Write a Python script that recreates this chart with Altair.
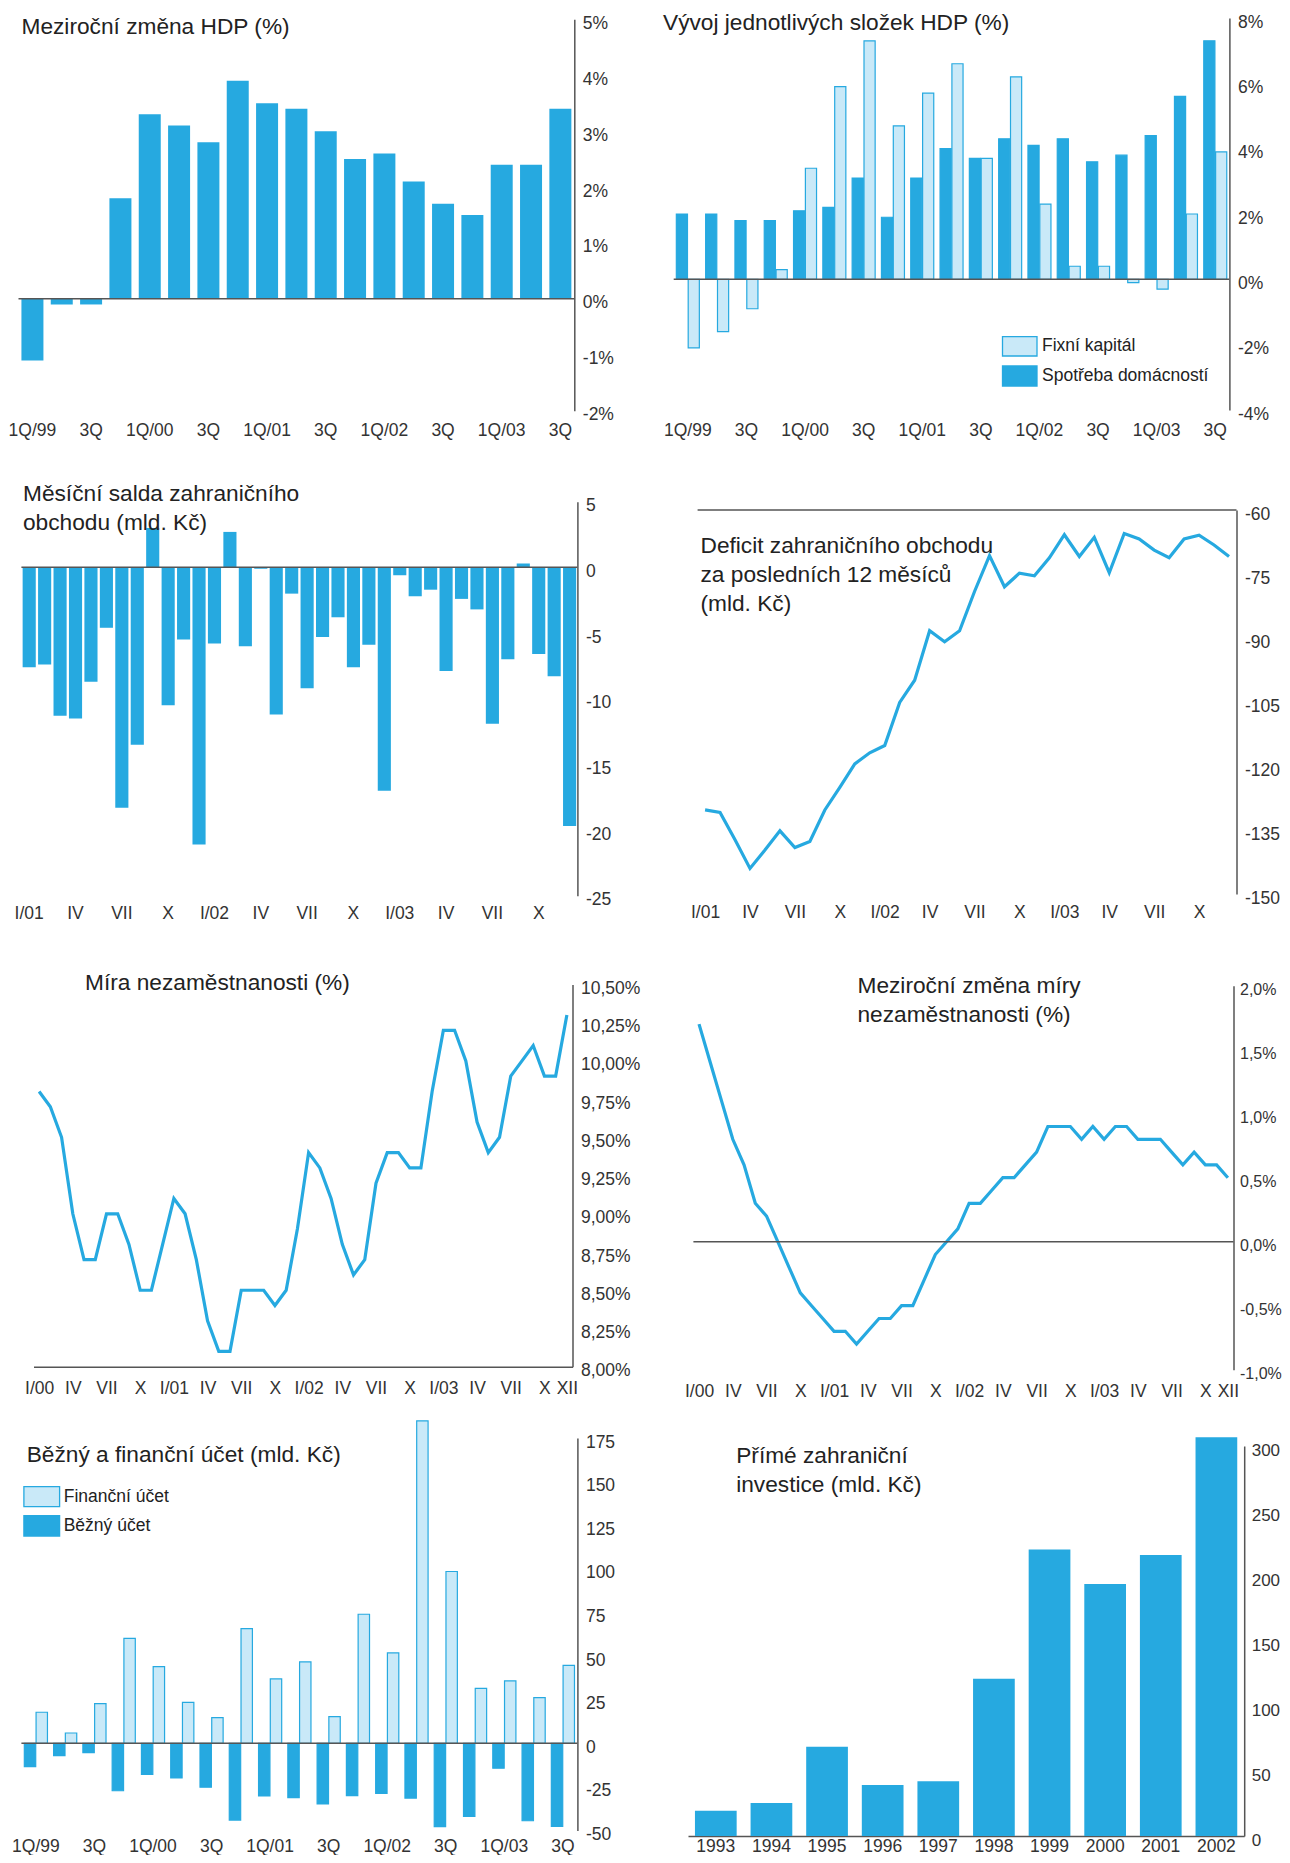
import altair as alt
import pandas as pd

FONT = "Liberation Sans"
BLUE = "#26a9e0"
LIGHT = "#c9e9f8"
AXIS = "#555555"
TXT = "#222222"
LBL = "#333333"
W, H = 1274, 1847

# ---------------- data ----------------
quarters = ["1Q/99", "2Q/99", "3Q/99", "4Q/99", "1Q/00", "2Q/00", "3Q/00", "4Q/00",
            "1Q/01", "2Q/01", "3Q/01", "4Q/01", "1Q/02", "2Q/02", "3Q/02", "4Q/02",
            "1Q/03", "2Q/03", "3Q/03"]
gdp_yoy = [-1.1, -0.1, -0.1, 1.8, 3.3, 3.1, 2.8, 3.9, 3.5, 3.4, 3.0, 2.5, 2.6, 2.1,
           1.7, 1.5, 2.4, 2.4, 3.4]
consumption = [2.0, 2.0, 1.8, 1.8, 2.1, 2.2, 3.1, 1.9, 3.1, 4.0, 3.7, 4.3, 4.1, 4.3,
               3.6, 3.8, 4.4, 5.6, 7.3]
fixed_capital = [-2.1, -1.6, -0.9, 0.3, 3.4, 5.9, 7.3, 4.7, 5.7, 6.6, 3.7, 6.2, 2.3,
                 0.4, 0.4, -0.1, -0.3, 2.0, 3.9]

roman = ["I", "II", "III", "IV", "V", "VI", "VII", "VIII", "IX", "X", "XI", "XII"]
months_01_03 = [f"{m}/{y}" for y in ["01", "02", "03"] for m in roman]
months_00_03 = [f"{m}/{y}" for y in ["00", "01", "02", "03"] for m in roman]

trade_balance = [-7.6, -7.4, -11.3, -11.5, -8.7, -4.6, -18.3, -13.5, 3.0, -10.5, -5.5, -21.1,
                 -5.8, 2.7, -6.0, -0.1, -11.2, -2.0, -9.2, -5.3, -3.8, -7.6, -5.9, -17.0,
                 -0.6, -2.2, -1.7, -7.9, -2.4, -3.2, -11.9, -7.0, 0.3, -6.6, -8.3, -19.7]
trade_12m = [-130.3, -130.9, -137.3, -144.0, -139.7, -135.2, -139.1, -137.7, -130.3, -125.0,
             -119.5, -116.9, -115.2, -105.1, -99.9, -88.3, -90.9, -88.3, -79.1, -70.7,
             -78.0, -74.8, -75.4, -71.2, -65.8, -70.9, -66.4, -74.7, -65.5, -66.8,
             -69.4, -71.2, -66.8, -65.9, -68.2, -70.9]

unemployment = [9.8, 9.7, 9.5, 9.0, 8.7, 8.7, 9.0, 9.0, 8.8, 8.5, 8.5, 8.8,
                9.1, 9.0, 8.7, 8.3, 8.1, 8.1, 8.5, 8.5, 8.5, 8.4, 8.5, 8.9,
                9.4, 9.3, 9.1, 8.8, 8.6, 8.7, 9.2, 9.4, 9.4, 9.3, 9.3, 9.8,
                10.2, 10.2, 10.0, 9.6, 9.4, 9.5, 9.9, 10.0, 10.1, 9.9, 9.9, 10.3]
unemployment_yoy = [1.7, 1.4, 1.1, 0.8, 0.6, 0.3, 0.2, 0.0, -0.2, -0.4, -0.5, -0.6,
                    -0.7, -0.7, -0.8, -0.7, -0.6, -0.6, -0.5, -0.5, -0.3, -0.1, 0.0, 0.1,
                    0.3, 0.3, 0.4, 0.5, 0.5, 0.6, 0.7, 0.9, 0.9, 0.9, 0.8, 0.9,
                    0.8, 0.9, 0.9, 0.8, 0.8, 0.8, 0.7, 0.6, 0.7, 0.6, 0.6, 0.5]

current_account = [-13.4, -7.1, -5.4, -27.2, -17.8, -19.9, -25.2, -44.0, -30.2, -31.2,
                   -34.8, -30.0, -28.7, -31.4, -47.8, -41.9, -14.3, -44.4, -47.6]
financial_account = [17.8, 5.9, 22.8, 60.2, 44.0, 23.5, 14.7, 65.8, 36.9, 46.7,
                     15.3, 74.0, 51.8, 184.9, 98.5, 31.5, 35.8, 26.2, 44.7]

years = [str(y) for y in range(1993, 2003)]
fdi = [19.5, 25.4, 68.7, 39.2, 42.1, 121.0, 220.3, 193.8, 216.2, 306.7]

S_CONS, S_FIX = "Spotřeba domácností", "Fixní kapitál"
S_CUR, S_FIN = "Běžný účet", "Finanční účet"

QEXPR = ("substring(datum.value,0,2)=='1Q' ? datum.value : "
         "(substring(datum.value,0,2)=='3Q' ? '3Q' : '')")
MEXPR = ("split(datum.value,'/')[0]=='I' ? datum.value : "
         "(indexof(['IV','VII','X'], split(datum.value,'/')[0]) >= 0 ? split(datum.value,'/')[0] : '')")
MEXPR2 = ("split(datum.value,'/')[0]=='I' ? datum.value : "
          "((indexof(['IV','VII','X'], split(datum.value,'/')[0]) >= 0 || datum.value=='XII/03') "
          "? split(datum.value,'/')[0] : '')")


# ---------------- helpers ----------------
def yaxis(x_right, values, expr, size=17.5, pad=8):
    return alt.Axis(orient="right", offset=x_right - W, values=values, labelExpr=expr,
                    ticks=False, tickSize=0, grid=False, domain=True, domainColor=AXIS,
                    domainWidth=1.5, labelPadding=pad, labelOffset=4, labelBaseline="middle",
                    labelAlign="left", labelFontSize=size, labelColor=LBL, labelFont=FONT,
                    title=None, labelOverlap=False, labelFlush=False)


def xaxis(y_bottom, pad, expr, domain=False):
    return alt.Axis(orient="bottom", offset=y_bottom - H, labelExpr=expr, ticks=False,
                    tickSize=0, grid=False, domain=domain, domainColor=AXIS, domainWidth=1.5,
                    labelPadding=pad, labelBaseline="middle", labelAngle=0, labelFontSize=17.5,
                    labelColor=LBL, labelFont=FONT, title=None, labelOverlap=False)


def yscale(domain, yb, yt):
    return alt.Scale(domain=domain, range=[yb, yt], nice=False, zero=False)


def title_layer(lines, x, y):
    return alt.Chart(pd.DataFrame({"k": [0]})).mark_text(
        text=lines, align="left", baseline="alphabetic", font=FONT, fontSize=22.7,
        color=TXT, lineHeight=29).encode(x=alt.value(x), y=alt.value(y))


def hrule(val, x0, x1, sc, ax):
    return alt.Chart(pd.DataFrame({"v": [val]})).mark_rule(color=AXIS, strokeWidth=1.5).encode(
        y=alt.Y("v:Q", scale=sc, axis=ax), x=alt.value(x0), x2=alt.value(x1))


def legend_item(label, fill, x0, y0, x1, y1, tx):
    sw = alt.Chart(pd.DataFrame({"k": [0]})).mark_rect(fill=fill, stroke=BLUE, strokeWidth=1.3).encode(
        x=alt.value(x0), x2=alt.value(x1), y=alt.value(y0), y2=alt.value(y1))
    tt = alt.Chart(pd.DataFrame({"k": [0]})).mark_text(
        text=label, align="left", baseline="middle", font=FONT, fontSize=17.5, color=TXT).encode(
        x=alt.value(tx), y=alt.value((y0 + y1) / 2))
    return [sw, tt]


# ---------------- panel 1 ----------------
X0, X1, YB, YT = 10.5, 566.3, 402.7, 11.3
sc = yscale([-2, 5], YB, YT)
ax = yaxis(X1, list(range(-2, 6)), "datum.value + '%'")
p1 = alt.layer(
    alt.Chart(pd.DataFrame({"q": quarters, "v": gdp_yoy})).mark_bar(color=BLUE).encode(
        x=alt.X("q:N", sort=None, scale=alt.Scale(range=[X0, X1], paddingInner=0.25, paddingOuter=0.1),
                axis=xaxis(YB, 19.3, QEXPR)),
        y=alt.Y("v:Q", scale=sc, axis=ax)),
    hrule(0, X0, X1, sc, ax),
    title_layer(["Meziroční změna HDP (%)"], 13.5, 26.3),
)

# ---------------- panel 2 ----------------
X0, X1, YB, YT = 665.7, 1221.4, 402.0, 10.0
sc = yscale([-4, 8], YB, YT)
ax = yaxis(X1, list(range(-4, 9, 2)), "datum.value + '%'")
df2 = pd.DataFrame({"q": quarters * 2, "s": [S_CONS] * len(quarters) + [S_FIX] * len(quarters),
                    "v": consumption + fixed_capital})
p2 = alt.layer(
    alt.Chart(df2).mark_bar(stroke=BLUE, strokeWidth=1.2).encode(
        x=alt.X("q:N", sort=None, scale=alt.Scale(range=[X0, X1], paddingInner=0.215, paddingOuter=0.09),
                axis=xaxis(YB, 20, QEXPR)),
        xOffset=alt.XOffset("s:N", scale=alt.Scale(domain=[S_CONS, S_FIX], paddingInner=0.06)),
        y=alt.Y("v:Q", stack=None, scale=sc, axis=ax),
        color=alt.Color("s:N", scale=alt.Scale(domain=[S_CONS, S_FIX], range=[BLUE, LIGHT]), legend=None)),
    hrule(0, X0, X1, sc, ax),
    title_layer(["Vývoj jednotlivých složek HDP (%)"], 655, 21.5),
    *legend_item(S_FIX, LIGHT, 994.5, 328.7, 1029, 348, 1034),
    *legend_item(S_CONS, BLUE, 994.5, 358, 1029, 378, 1034),
)

# ---------------- panel 3 ----------------
X0, X1, YB, YT = 13.4, 569.4, 887.7, 493.7
sc = yscale([-25, 5], YB, YT)
ax = yaxis(X1, list(range(-25, 6, 5)), "'' + datum.value")
p3 = alt.layer(
    alt.Chart(pd.DataFrame({"m": months_01_03, "v": trade_balance})).mark_bar(color=BLUE).encode(
        x=alt.X("m:N", sort=None, scale=alt.Scale(range=[X0, X1], paddingInner=0.15, paddingOuter=0.08),
                axis=xaxis(YB, 17.5, MEXPR)),
        y=alt.Y("v:Q", scale=sc, axis=ax)),
    hrule(0, X0, X1, sc, ax),
    title_layer(["Měsíční salda zahraničního", "obchodu (mld. Kč)"], 15, 492.7),
)

# ---------------- panel 4 ----------------
X0, X1, YB, YT = 689.6, 1228.5, 886.0, 502.0
sc = yscale([-150, -60], YB, YT)
ax = yaxis(X1, list(range(-150, -59, 15)), "'' + datum.value")
p4 = alt.layer(
    alt.Chart(pd.DataFrame({"m": months_01_03, "v": trade_12m})).mark_line(color=BLUE, strokeWidth=3.2).encode(
        x=alt.X("m:N", sort=None, scale=alt.Scale(type="point", range=[X0, X1], padding=0.5),
                axis=xaxis(YB, 18.7, MEXPR)),
        y=alt.Y("v:Q", scale=sc, axis=ax)),
    hrule(-60, X0, X1, sc, ax),
    title_layer(["Deficit zahraničního obchodu", "za posledních 12 měsíců", "(mld. Kč)"], 692.5, 544.7),
)

# ---------------- panel 5 ----------------
X0, X1, YB, YT = 25.5, 564.5, 1358.7, 976.4
sc = yscale([8.0, 10.5], YB, YT)
p5 = alt.layer(
    alt.Chart(pd.DataFrame({"m": months_00_03, "v": unemployment})).mark_line(color=BLUE, strokeWidth=3.2).encode(
        x=alt.X("m:N", sort=None, scale=alt.Scale(type="point", range=[X0, X1], padding=0.5),
                axis=xaxis(YB, 21.3, MEXPR2, domain=True)),
        y=alt.Y("v:Q", scale=sc, axis=yaxis(X1, [8 + 0.25 * i for i in range(11)],
                                            "replace(format(datum.value, '.2f'), '.', ',') + '%'"))),
    title_layer(["Míra nezaměstnanosti (%)"], 77, 982),
)

# ---------------- panel 6 ----------------
X0, X1, YB, YT = 685.4, 1225.5, 1361.7, 977.7
sc = yscale([-1.0, 2.0], YB, YT)
ax = yaxis(X1, [-1.0, -0.5, 0.0, 0.5, 1.0, 1.5, 2.0],
           "replace(replace(format(datum.value, '.1f'), '.', ','), '\u2212', '-') + '%'",
           size=16, pad=6)
p6 = alt.layer(
    alt.Chart(pd.DataFrame({"m": months_00_03, "v": unemployment_yoy})).mark_line(color=BLUE, strokeWidth=3.2).encode(
        x=alt.X("m:N", sort=None, scale=alt.Scale(type="point", range=[X0, X1], padding=0.5),
                axis=xaxis(YB, 22, MEXPR2)),
        y=alt.Y("v:Q", scale=sc, axis=ax)),
    hrule(0, X0, X1, sc, ax),
    title_layer(["Meziroční změna míry", "nezaměstnanosti (%)"], 849.5, 984.7),
)

# ---------------- panel 7 ----------------
X0, X1, YB, YT = 13.4, 569.4, 1822.5, 1430.1
sc = yscale([-50, 175], YB, YT)
ax = yaxis(X1, list(range(-50, 176, 25)), "'' + datum.value")
df7 = pd.DataFrame({"q": quarters * 2, "s": [S_CUR] * len(quarters) + [S_FIN] * len(quarters),
                    "v": current_account + financial_account})
p7 = alt.layer(
    alt.Chart(df7).mark_bar(stroke=BLUE, strokeWidth=1.2).encode(
        x=alt.X("q:N", sort=None, scale=alt.Scale(range=[X0, X1], paddingInner=0.21, paddingOuter=0.1),
                axis=xaxis(YB, 16, QEXPR)),
        xOffset=alt.XOffset("s:N", scale=alt.Scale(domain=[S_CUR, S_FIN], paddingInner=0.03)),
        y=alt.Y("v:Q", stack=None, scale=sc, axis=ax),
        color=alt.Color("s:N", scale=alt.Scale(domain=[S_CUR, S_FIN], range=[BLUE, LIGHT]), legend=None)),
    hrule(0, X0, X1, sc, ax),
    title_layer(["Běžný a finanční účet (mld. Kč)"], 18.7, 1453.7),
    *legend_item(S_FIN, LIGHT, 15.9, 1478.7, 51.6, 1498.7, 55.7),
    *legend_item(S_CUR, BLUE, 15.9, 1507.7, 51.6, 1528, 55.7),
)

# ---------------- panel 8 ----------------
X0, X1, YB, YT = 680.0, 1236.2, 1828.0, 1438.0
sc = yscale([0, 300], YB, YT)
p8 = alt.layer(
    alt.Chart(pd.DataFrame({"y": years, "v": fdi})).mark_bar(color=BLUE).encode(
        x=alt.X("y:N", sort=None, scale=alt.Scale(range=[X0, X1], paddingInner=0.25, paddingOuter=0.125),
                axis=xaxis(YB, 10.5, "datum.value", domain=True)),
        y=alt.Y("v:Q", scale=sc, axis=yaxis(X1, list(range(0, 301, 50)), "'' + datum.value", size=17, pad=7))),
    title_layer(["Přímé zahraniční", "investice (mld. Kč)"], 728.2, 1454.7),
)

chart = alt.layer(p1, p2, p3, p4, p5, p6, p7, p8).resolve_scale(
    x="independent", y="independent", color="independent", xOffset="independent"
).resolve_axis(
    x="independent", y="independent"
).properties(
    width=W, height=H, padding=0, autosize=alt.AutoSizeParams(type="none"),
    background="white",
).configure_view(stroke=None).configure_text(font=FONT)

chart.save("out.html", embed_options={"renderer": "svg", "actions": False})
